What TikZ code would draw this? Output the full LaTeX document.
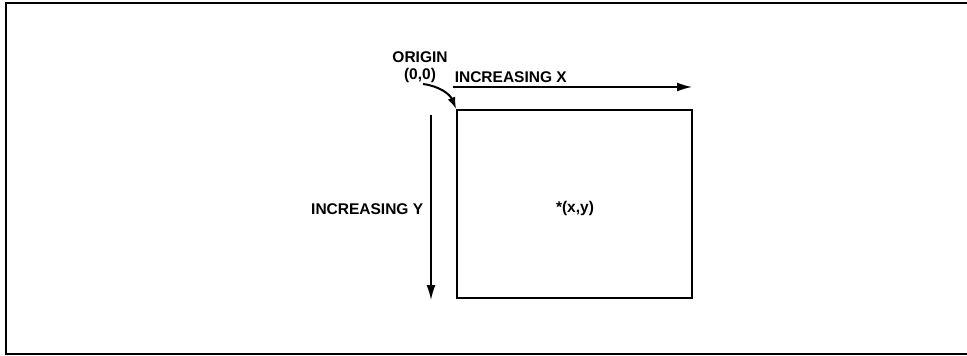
\documentclass[tikz,border=0pt]{standalone}
\usepackage{fontspec}
\setmainfont{Liberation Sans}
\usetikzlibrary{arrows.meta}

\begin{document}
\begin{tikzpicture}[>={Latex[length=15pt,width=9pt]},font=\bfseries\fontsize{15.5}{17}\selectfont,x=1pt,y=-1pt,line width=1.6pt]
\useasboundingbox (0,0) rectangle (967,356);
\draw[line width=1.8pt] (967,3)--(6,3)--(6,354)--(967,354);
\node[draw,minimum width=235pt,minimum height=188pt,inner sep=0pt] (screen) at (574.5,204) {};
\node (pt) at (575,208) {*(x,y)};
\coordinate (xs) at (453,87); \coordinate (xe) at (692,87);
\draw[->] (xs)--(xe);
\node[anchor=south west,inner sep=1pt] (labx) at (453,84) {INCREASING X};
\coordinate (ys) at (431,115); \coordinate (ye) at (431,300);
\draw[->] (ys)--(ye);
\node[anchor=east,inner sep=0pt] (laby) at (424,209) {INCREASING Y};
\node[align=center,inner sep=1pt] (origin) at (420,67) {ORIGIN\\(0,0)};
\draw[->,line width=2pt,>={Latex[length=12pt,width=8pt]}] (423,84) to[bend left=30] (screen.north west);
\end{tikzpicture}
\end{document}
